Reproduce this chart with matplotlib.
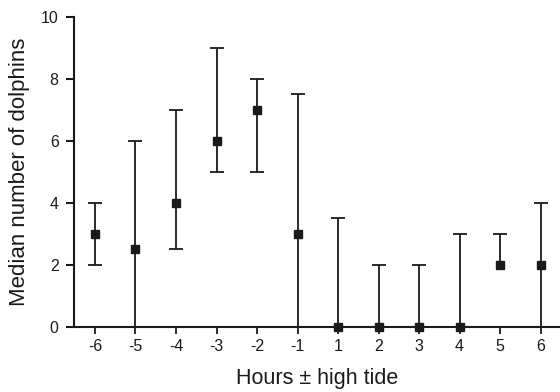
import matplotlib
matplotlib.use("Agg")
import matplotlib.pyplot as plt
import numpy as np

plt.rcParams['font.family'] = ['Liberation Sans', 'DejaVu Sans']

hours = ["-6", "-5", "-4", "-3", "-2", "-1", "1", "2", "3", "4", "5", "6"]
median = [3, 2.5, 4, 6, 7, 3, 0, 0, 0, 0, 2, 2]
lower = [2, 0, 2.5, 5, 5, 0, 0, 0, 0, 0, 2, 0]
upper = [4, 6, 7, 9, 8, 7.5, 3.5, 2, 2, 3, 3, 4]

fig = plt.figure(figsize=(5.6, 3.92), dpi=100)
ax = fig.add_axes([0.132, 0.166, 0.868, 0.791])

x = np.arange(len(hours))
med = np.array(median)
lo = np.array(lower)
up = np.array(upper)
col = '#1a1a1a'
ax.vlines(x, lo, up, color=col, linewidth=1.3, zorder=2)
mu = up > med
ml = lo < med
ax.plot(x[mu], up[mu], linestyle='none', marker='_', markersize=10, markeredgewidth=1.3,
        color=col, zorder=2, clip_on=False)
ax.plot(x[ml], lo[ml], linestyle='none', marker='_', markersize=10, markeredgewidth=1.3,
        color=col, zorder=2, clip_on=False)
ax.plot(x, med, linestyle='none', marker='s', markersize=5.5, color=col, zorder=3, clip_on=False)

ax.set_xlim(-0.52, 11.48)
ax.set_ylim(0, 10)
ax.set_xticks(x)
ax.set_xticklabels(hours)
ax.set_yticks([0, 2, 4, 6, 8, 10])
ax.spines['top'].set_visible(False)
ax.spines['right'].set_visible(False)
for s in ['left', 'bottom']:
    ax.spines[s].set_linewidth(1.5)
    ax.spines[s].set_color(col)
ax.tick_params(axis='y', length=6, width=1.5, labelsize=11.5, pad=5, colors=col)
ax.tick_params(axis='x', length=5, width=1.3, labelsize=11.5, pad=4, colors=col)
ax.set_ylabel('Median number of dolphins', fontsize=16, labelpad=8, color=col)
ax.set_xlabel('Hours ± high tide', fontsize=15.5, labelpad=10, color=col)

fig.savefig('out.png', dpi=100)
